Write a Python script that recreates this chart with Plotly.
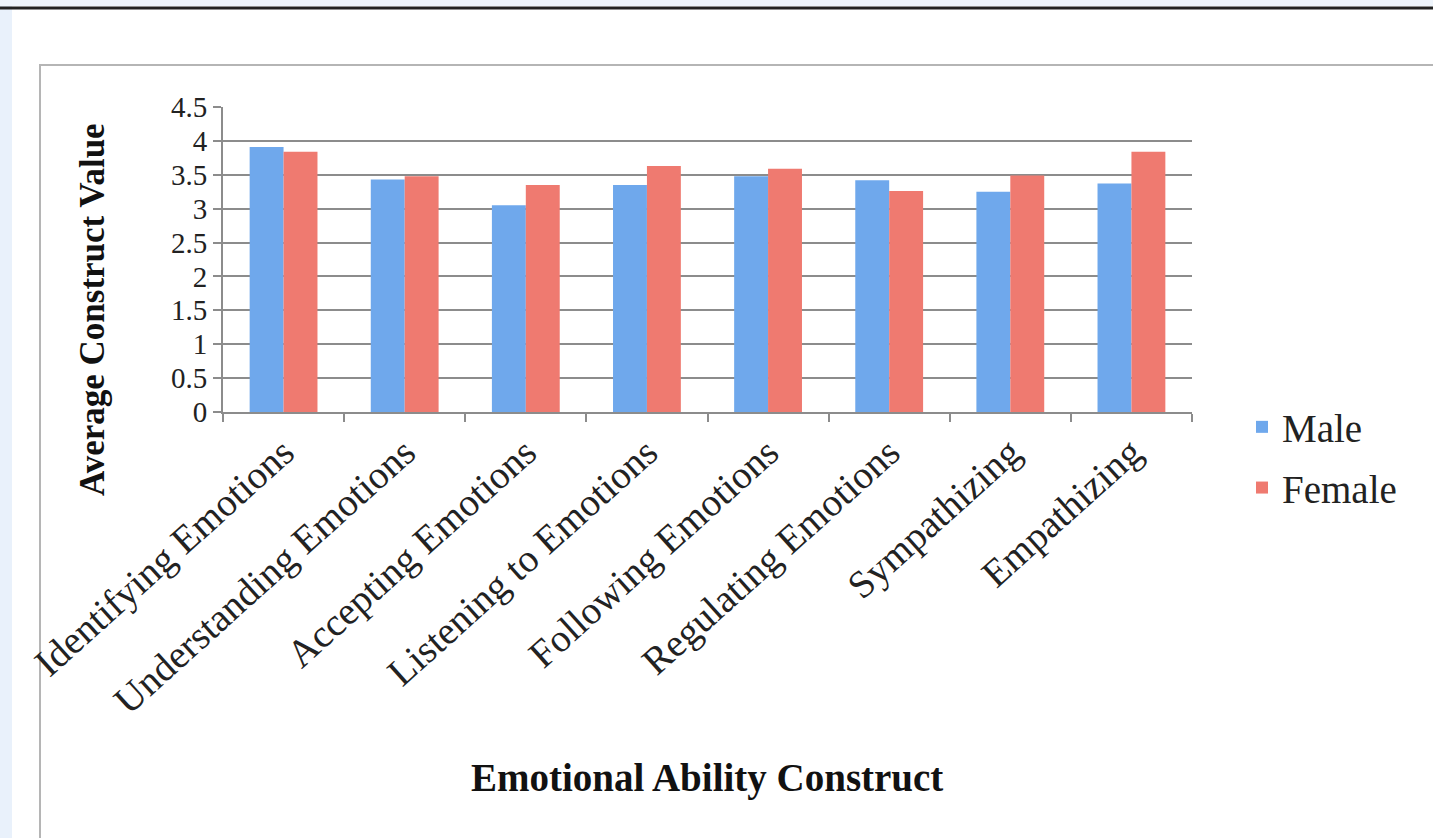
import plotly.graph_objects as go

categories = ["Identifying Emotions", "Understanding Emotions", "Accepting Emotions",
              "Listening to Emotions", "Following Emotions", "Regulating Emotions",
              "Sympathizing", "Empathizing"]
male = [3.91, 3.43, 3.05, 3.35, 3.48, 3.42, 3.25, 3.37]
female = [3.84, 3.48, 3.35, 3.63, 3.59, 3.26, 3.49, 3.84]
y_ticks = [0, 0.5, 1, 1.5, 2, 2.5, 3, 3.5, 4, 4.5]
y_tick_text = ["0", "0.5", "1", "1.5", "2", "2.5", "3", "3.5", "4", "4.5"]

W, H = 1433, 838
L, R, T, B = 223, 1192, 107, 412
PW, PH = R - L, B - T

def px(x):
    return (x - L) / PW

def py(y):
    return (B - y) / PH

FONT = "Liberation Serif"

fig = go.Figure()
fig.add_trace(go.Bar(x=categories, y=male, name="Male", legendgroup="m",
                     marker=dict(color="#6fa8ec", line=dict(width=0))))
fig.add_trace(go.Bar(x=categories, y=female, name="Female", legendgroup="f",
                     marker=dict(color="#ef7a70", line=dict(width=0))))

shapes = [
    dict(type="rect", xref="paper", yref="paper", x0=px(-5), x1=px(12), y0=py(850), y1=py(-5),
         fillcolor="#e9f1fb", line=dict(width=0), layer="below"),
    dict(type="rect", xref="paper", yref="paper", x0=px(-5), x1=px(1440), y0=py(6), y1=py(-5),
         fillcolor="#eef4fb", line=dict(width=0), layer="below"),
    dict(type="line", xref="paper", yref="paper", x0=px(-5), x1=px(1440), y0=py(8), y1=py(8),
         line=dict(color="#222222", width=3)),
    dict(type="rect", xref="paper", yref="paper", x0=px(40), x1=px(1445), y0=py(850), y1=py(65),
         line=dict(color="#b5b5b5", width=2), fillcolor="rgba(0,0,0,0)", layer="below"),
]

annotations = [
    dict(text="<b>Average Construct Value</b>", xref="paper", yref="paper",
         x=px(92), y=py(310), textangle=-90, showarrow=False,
         font=dict(family=FONT, size=35, color="#111111"), xanchor="center", yanchor="middle"),
    dict(text="<b>Emotional Ability Construct</b>", xref="paper", yref="paper",
         x=px(707), y=py(778), showarrow=False,
         font=dict(family=FONT, size=39, color="#111111"), xanchor="center", yanchor="middle"),
]

fig.update_layout(
    width=W, height=H,
    margin=dict(l=L, r=W - R, t=T, b=H - B, autoexpand=False),
    paper_bgcolor="white", plot_bgcolor="white",
    barmode="group", bargap=0.44, bargroupgap=0,
    font=dict(family=FONT, color="#222222"),
    showlegend=True,
    legend=dict(x=px(1242), y=py(395), xanchor="left", yanchor="top",
                font=dict(family=FONT, size=39, color="#222222"),
                traceorder="grouped", tracegroupgap=7, itemwidth=30,
                bgcolor="rgba(0,0,0,0)"),
    shapes=shapes,
    annotations=annotations,
)

fig.update_yaxes(range=[0, 4.5], tickvals=y_ticks, ticktext=y_tick_text,
                 showgrid=True, gridcolor="#8c8c8c", gridwidth=2,
                 showline=True, linecolor="#8c8c8c", linewidth=2,
                 ticks="outside", ticklen=8, tickcolor="#8c8c8c", tickwidth=2,
                 tickfont=dict(family=FONT, size=29, color="#222222"),
                 zeroline=False, automargin=False)
fig.update_xaxes(tickangle=-42, showline=True, linecolor="#8c8c8c", linewidth=2,
                 ticks="outside", ticklen=8, tickcolor="#8c8c8c", tickwidth=2,
                 tickson="boundaries",
                 tickfont=dict(family=FONT, size=39, color="#222222"),
                 showgrid=False, automargin=False)

fig.write_html("out.html", config={"displayModeBar": False},
               post_script="document.body.style.margin='0px';document.body.style.overflow='hidden';")
